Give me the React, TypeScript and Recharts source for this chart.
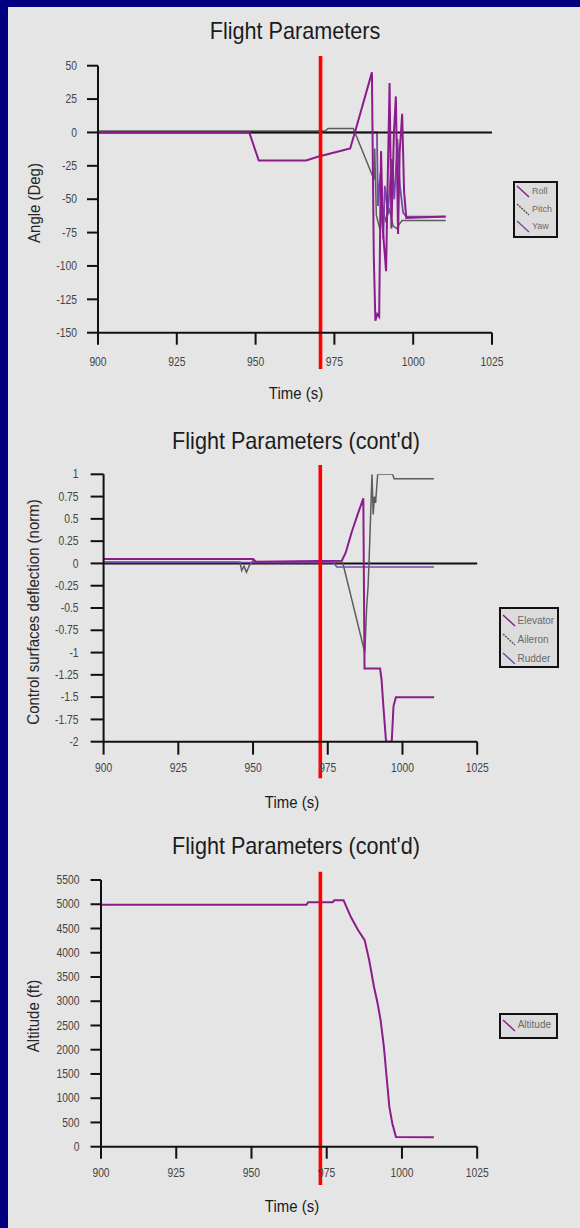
import React from "react";
import { LineChart, Line, XAxis, YAxis, ReferenceLine, Legend } from "recharts";

// ---- data ----
const timeTicks = [900, 925, 950, 975, 1000, 1025];
const angleTicks = [50, 25, 0, -25, -50, -75, -100, -125, -150];
const deflectionTicks = [1, 0.75, 0.5, 0.25, 0, -0.25, -0.5, -0.75, -1, -1.25, -1.5, -1.75, -2];
const altitudeTicks = [5500, 5000, 4500, 4000, 3500, 3000, 2500, 2000, 1500, 1000, 500, 0];

const rollTime = [900, 948, 951, 966, 970, 975, 980, 981.5, 986.9, 987.5, 988, 988.6, 989.2, 989.8, 990.4, 991.4, 991.8, 992.5, 993.1, 993.9, 994.5, 995.2, 995.7, 996.5, 997.1, 997.8, 1010.3];
const rollDeg = [0, 0, -21, -21, -18, -15, -12, 0, 45, -93, -141, -136, -138, -14, -74, -104, -50, 37, -72, 1, 27, -76, -15, 14, -44, -64, -63];
const pitchTime = [900, 972, 973, 981, 987, 987.6, 987.8, 988.3, 989.5, 990.3, 991.2, 992.5, 993.6, 994.8, 995.8, 996.5, 1010.3];
const pitchDeg = [1, 1, 3, 3, -32, -34, -12, -62, -73, -55, -66, -58, -70, -72, -68, -66, -66];
const yawTime = [900, 988.5, 988.8, 989.6, 990.5, 991, 992, 993.2, 994, 995, 995.8, 996.8, 997.8, 1010.3];
const yawDeg = [0, 0, -55, -30, -80, -40, -60, -20, -50, -5, -40, -60, -63, -63];

const elevatorTime = [900, 950, 951, 979.7, 981, 983, 985, 986.9, 987.3, 992.5, 993, 993.6, 994.5, 996.4, 997, 997.8, 1010.6];
const elevatorNorm = [0.05, 0.05, 0.02, 0.03, 0.12, 0.35, 0.55, 0.73, -1.18, -1.18, -1.3, -1.6, -2, -2, -1.6, -1.5, -1.5];
const aileronTime = [900, 945.6, 946.2, 947, 947.8, 948.8, 950, 951, 980, 987.4, 988, 988.5, 989, 989.5, 989.8, 990.2, 990.6, 991, 991.7, 996.7, 997.2, 1010.5];
const aileronNorm = [0.015, 0.015, -0.08, -0.03, -0.1, -0.02, 0.03, 0.01, 0.01, -1.0, -0.5, -0.25, 0.2, 0.7, 1.0, 0.55, 0.75, 0.68, 1.0, 1.0, 0.95, 0.95];
const rudderTime = [900, 977, 978, 1010.5];
const rudderNorm = [0.01, 0.01, -0.04, -0.04];

const altitudeTime = [900, 968.3, 968.8, 977, 977.5, 980.6, 983, 985.4, 987.6, 989.1, 990.7, 991.9, 992.9, 994, 994.9, 995.8, 996.8, 998, 1010.6];
const altitudeFt = [4990, 4990, 5040, 5040, 5080, 5080, 4740, 4470, 4260, 3850, 3300, 2960, 2610, 2060, 1440, 825, 480, 200, 195];

// the red event marker, one per chart
const eventTime = [970.6, 972.5, 972.9];

type Pt = { t: number; v: number };
const zip = (ts: number[], vs: number[]): Pt[] => ts.map((t, i) => ({ t, v: vs[i] }));

const FONT = "'Liberation Sans', Arial, Helvetica, sans-serif";
const PURPLE = "#8c1c8c";
const GRAY = "#5c5c5c";
const VIOLET = "#7a48ac";
const AXIS = "#111";

function XTick(props: any) {
  const { x, y, payload } = props;
  return (
    <text x={x} y={y} dy="0.35em" textAnchor="middle" fontSize={12} fill="#444" fontFamily={FONT}
      style={{ transformBox: "fill-box", transformOrigin: "center", transform: "scaleX(0.86)" }}>
      {payload.value}
    </text>
  );
}

function YTick(props: any) {
  const { x, y, payload } = props;
  return (
    <text x={x} y={y} dy="0.35em" textAnchor="end" fontSize={12} fill="#444" fontFamily={FONT}
      style={{ transformBox: "fill-box", transformOrigin: "right center", transform: "scaleX(0.86)" }}>
      {payload.value}
    </text>
  );
}

function Caption({ text, cx, baseline, size, scale }: { text: string; cx: number; baseline: number; size: number; scale: number }) {
  return (
    <div
      style={{
        position: "absolute",
        left: cx,
        top: baseline - 0.8465 * size,
        fontSize: size,
        lineHeight: 1,
        fontFamily: FONT,
        color: "#1c1c1c",
        whiteSpace: "nowrap",
        transform: `translateX(-50%) scaleX(${scale})`,
        transformOrigin: "center",
      }}
    >
      {text}
    </div>
  );
}

function SideCaption({ text, cx, cy }: { text: string; cx: number; cy: number }) {
  return (
    <div
      style={{
        position: "absolute",
        left: cx,
        top: cy,
        fontSize: 17,
        lineHeight: 1,
        fontFamily: FONT,
        color: "#262626",
        whiteSpace: "nowrap",
        transform: "translate(-50%, -50%) rotate(-90deg) scaleX(0.88)",
        transformOrigin: "center",
      }}
    >
      {text}
    </div>
  );
}

function LegendBox({ payload, width, height, rowH, padTop, fontSize }: any) {
  return (
    <div
      style={{
        boxSizing: "border-box",
        width,
        height,
        border: `2px solid ${AXIS}`,
        background: "#dcdcdc",
        paddingTop: padTop,
        paddingLeft: 1,
        textAlign: "left",
      }}
    >
      {(payload || []).map((p: any) => (
        <div key={p.value} style={{ display: "flex", alignItems: "center", height: rowH }}>
          <svg width={14} height={13} style={{ flex: "none" }}>
            <line x1={1} y1={1} x2={13} y2={12} stroke={p.color} strokeWidth={1.5} strokeDasharray={p.color === GRAY ? "2 1" : undefined} />
          </svg>
          <span style={{ marginLeft: 2, fontSize, color: "#6a6a6a", fontFamily: FONT, lineHeight: 1 }}>{p.value}</span>
        </div>
      ))}
    </div>
  );
}

const axisLine = { stroke: AXIS, strokeWidth: 2 };

export default function App() {
  return (
    <div style={{ position: "absolute", left: 0, top: 0, width: 580, height: 1228, background: "#000080", overflow: "hidden" }}>
      <div style={{ position: "absolute", left: 8, top: 7, width: 572, height: 1221, background: "#e5e5e5" }} />

      {/* chart 1: angles */}
      <div style={{ position: "absolute", left: 0, top: 0, width: 580, height: 410 }}>
        <LineChart width={580} height={410} margin={{ top: 65.7, right: 88, bottom: 37.3, left: 38 }}>
          <XAxis dataKey="t" type="number" domain={[900, 1025]} ticks={timeTicks} interval={0} height={40}
            tickSize={12} tickMargin={17} axisLine={axisLine} tickLine={axisLine} tick={<XTick />} allowDataOverflow />
          <YAxis type="number" domain={[-150, 50]} ticks={angleTicks} interval={0} width={60}
            tickSize={11} tickMargin={10} axisLine={axisLine} tickLine={axisLine} tick={<YTick />} allowDataOverflow />
          <Line data={zip(pitchTime, pitchDeg)} dataKey="v" name="Pitch" stroke={GRAY} strokeWidth={1.5} dot={false} isAnimationActive={false} />
          <Line data={zip(yawTime, yawDeg)} dataKey="v" name="Yaw" stroke={VIOLET} strokeWidth={1.8} dot={false} isAnimationActive={false} />
          <ReferenceLine y={0} stroke={AXIS} strokeWidth={2} />
          <Line data={zip(rollTime, rollDeg)} dataKey="v" name="Roll" stroke={PURPLE} strokeWidth={2} dot={false} isAnimationActive={false} />
          <ReferenceLine segment={[{ x: eventTime[0], y: 57.3 }, { x: eventTime[0], y: -177.2 }]} stroke="#f00" strokeWidth={3.6} ifOverflow="visible" />
          <Legend layout="horizontal" verticalAlign="middle" align="center"
            wrapperStyle={{ left: 513, top: 181, width: 45, height: 57 }}
            content={() => (
              <LegendBox
                payload={[
                  { value: "Roll", color: PURPLE },
                  { value: "Pitch", color: GRAY },
                  { value: "Yaw", color: VIOLET },
                ]}
                width={45} height={57} rowH={17.6} padTop={0} fontSize={9}
              />
            )}
          />
        </LineChart>
        <Caption text="Flight Parameters" cx={295} baseline={39} size={24} scale={0.9} />
        <Caption text="Time (s)" cx={296} baseline={399.3} size={17} scale={0.88} />
        <SideCaption text="Angle (Deg)" cx={33.5} cy={203} />
      </div>

      {/* chart 2: control surfaces */}
      <div style={{ position: "absolute", left: 0, top: 410, width: 580, height: 410 }}>
        <LineChart width={580} height={410} margin={{ top: 64.3, right: 102.8, bottom: 38.3, left: 43.6 }}>
          <XAxis dataKey="t" type="number" domain={[900, 1025]} ticks={timeTicks} interval={0} height={40}
            tickSize={13} tickMargin={13} axisLine={axisLine} tickLine={axisLine} tick={<XTick />} allowDataOverflow />
          <YAxis type="number" domain={[-2, 1]} ticks={deflectionTicks} interval={0} width={60}
            tickSize={13} tickMargin={12} axisLine={axisLine} tickLine={axisLine} tick={<YTick />} allowDataOverflow />
          <ReferenceLine y={0} stroke={AXIS} strokeWidth={2} />
          <Line data={zip(aileronTime, aileronNorm)} dataKey="v" name="Aileron" stroke={GRAY} strokeWidth={1.5} dot={false} isAnimationActive={false} />
          <Line data={zip(rudderTime, rudderNorm)} dataKey="v" name="Rudder" stroke={VIOLET} strokeWidth={1.5} dot={false} isAnimationActive={false} />
          <Line data={zip(elevatorTime, elevatorNorm)} dataKey="v" name="Elevator" stroke={PURPLE} strokeWidth={2} dot={false} isAnimationActive={false} />
          <ReferenceLine segment={[{ x: eventTime[1], y: 1.104 }, { x: eventTime[1], y: -2.41 }]} stroke="#f00" strokeWidth={3.6} ifOverflow="visible" />
          <Legend layout="horizontal" verticalAlign="middle" align="center"
            wrapperStyle={{ left: 498.5, top: 197, width: 60, height: 61 }}
            content={() => (
              <LegendBox
                payload={[
                  { value: "Elevator", color: PURPLE },
                  { value: "Aileron", color: GRAY },
                  { value: "Rudder", color: VIOLET },
                ]}
                width={60} height={61} rowH={19} padTop={2} fontSize={10}
              />
            )}
          />
        </LineChart>
        <Caption text="Flight Parameters (cont'd)" cx={296} baseline={39.3} size={24} scale={0.9} />
        <Caption text="Time (s)" cx={292} baseline={398.3} size={17} scale={0.88} />
        <SideCaption text="Control surfaces deflection (norm)" cx={33} cy={201.7} />
      </div>

      {/* chart 3: altitude */}
      <div style={{ position: "absolute", left: 0, top: 820, width: 580, height: 408 }}>
        <LineChart width={580} height={408} margin={{ top: 60, right: 102.8, bottom: 41.3, left: 41 }}>
          <XAxis dataKey="t" type="number" domain={[900, 1025]} ticks={timeTicks} interval={0} height={40}
            tickSize={12} tickMargin={14.6} axisLine={axisLine} tickLine={axisLine} tick={<XTick />} allowDataOverflow />
          <YAxis type="number" domain={[0, 5500]} ticks={altitudeTicks} interval={0} width={60}
            tickSize={10.5} tickMargin={11} axisLine={axisLine} tickLine={axisLine} tick={<YTick />} allowDataOverflow />
          <Line data={zip(altitudeTime, altitudeFt)} dataKey="v" name="Altitude" stroke={PURPLE} strokeWidth={2} dot={false} isAnimationActive={false} />
          <ReferenceLine segment={[{ x: eventTime[2], y: 5671 }, { x: eventTime[2], y: -790 }]} stroke="#f00" strokeWidth={3.6} ifOverflow="visible" />
          <Legend layout="horizontal" verticalAlign="middle" align="center"
            wrapperStyle={{ left: 498.7, top: 192.7, width: 59, height: 26 }}
            content={() => (
              <LegendBox payload={[{ value: "Altitude", color: PURPLE }]} width={59} height={26} rowH={21} padTop={0} fontSize={10} />
            )}
          />
        </LineChart>
        <Caption text="Flight Parameters (cont'd)" cx={296} baseline={34.3} size={24} scale={0.9} />
        <Caption text="Time (s)" cx={292} baseline={392.7} size={17} scale={0.88} />
        <SideCaption text="Altitude (ft)" cx={33} cy={196} />
      </div>
    </div>
  );
}
